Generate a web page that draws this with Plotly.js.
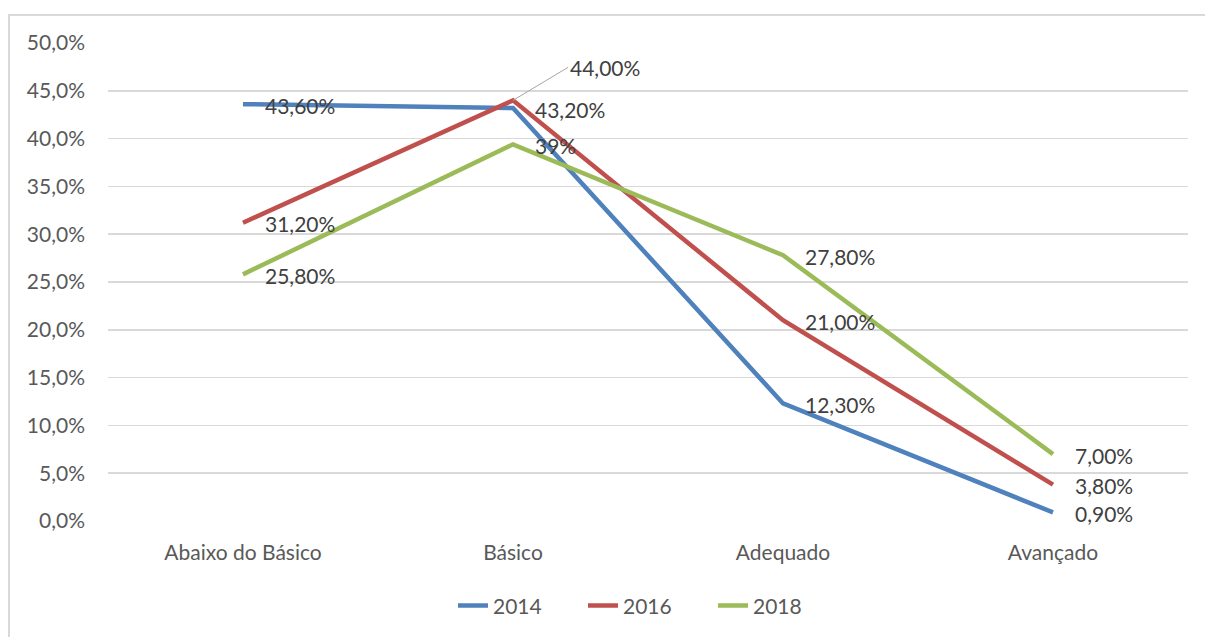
<!DOCTYPE html>
<html>
<head>
<meta charset="utf-8">
<script src="https://cdn.plot.ly/plotly-3.0.1.min.js"></script>
<style>
  html, body { margin: 0; padding: 0; background: #fff; }
  #wrap { position: relative; width: 1205px; height: 637px; }
  #frame { position: absolute; left: 8px; top: 14px; right: 0; bottom: 0;
           border-top: 2px solid #d9d9d9; border-left: 2px solid #d9d9d9; pointer-events: none; }
  #chart { position: absolute; left: 0; top: 0; width: 1205px; height: 637px; }
</style>
</head>
<body>
<div id="wrap">
  <div id="chart"></div>
  <div id="frame"></div>
</div>
<script>
const categories = ["Abaixo do Básico", "Básico", "Adequado", "Avançado"];
const seriesNames = ["2014", "2016", "2018"];
const values2014 = [43.6, 43.2, 12.3, 0.9];
const values2016 = [31.2, 44.0, 21.0, 3.8];
const values2018 = [25.8, 39.4, 27.8, 7.0];
const labels2014 = ["43,60%", "43,20%", "12,30%", "0,90%"];
const labels2016 = ["31,20%", "44,00%", "21,00%", "3,80%"];
const labels2018 = ["25,80%", "39%", "27,80%", "7,00%"];
const colors = ["#4f81bd", "#c0504d", "#9bbb59"];
const yTickVals = [0, 5, 10, 15, 20, 25, 30, 35, 40, 45, 50];
const yTickText = ["0,0%", "5,0%", "10,0%", "15,0%", "20,0%", "25,0%", "30,0%", "35,0%", "40,0%", "45,0%", "50,0%"];

const allValues = [values2014, values2016, values2018];
const allLabels = [labels2014, labels2016, labels2018];

const FONT = "Lato, 'Liberation Sans', sans-serif";
const FS = 21;

const traces = allValues.map((vals, i) => ({
  type: "scatter",
  mode: "lines",
  name: seriesNames[i],
  x: categories,
  y: vals,
  line: { color: colors[i], width: 4.5 },
  hoverinfo: "skip"
}));

const annotations = [];
allValues.forEach((vals, i) => {
  vals.forEach((v, j) => {
    const leader = (i === 1 && j === 1);
    const a = {
      x: categories[j], y: v, xref: "x", yref: "y",
      text: allLabels[i][j],
      font: { family: FONT, size: FS, color: "#404040" },
      xanchor: "left", yanchor: "middle"
    };
    if (leader) {
      a.showarrow = true;
      a.arrowhead = 0;
      a.arrowwidth = 1;
      a.arrowcolor = "#a6a6a6";
      a.axref = "pixel"; a.ayref = "pixel";
      a.ax = 55; a.ay = -33;
      a.xanchor = "left";
    } else {
      a.showarrow = false;
      a.xshift = 20;
      a.yshift = -1;
    }
    annotations.push(a);
  });
});

const layout = {
  width: 1205, height: 637,
  margin: { l: 108, r: 17, t: 43, b: 115 },
  paper_bgcolor: "rgba(0,0,0,0)",
  plot_bgcolor: "rgba(0,0,0,0)",
  separators: ",.",
  showlegend: true,
  legend: {
    orientation: "h", x: 0.50, xanchor: "center", xref: "paper",
    y: -0.175, yanchor: "middle",
    font: { family: FONT, size: FS, color: "#595959" },
    entrywidth: 85, entrywidthmode: "pixels",
    traceorder: "normal"
  },
  xaxis: {
    type: "category",
    range: [-0.5, 3.5],
    showgrid: false, zeroline: false, showline: false,
    ticks: "",
    tickfont: { family: FONT, size: FS, color: "#595959" },
    ticklabelstandoff: 17
  },
  yaxis: {
    range: [0, 50],
    tickmode: "array",
    tickvals: yTickVals,
    ticktext: yTickText,
    showgrid: true, gridcolor: "#d9d9d9", gridwidth: 1.5,
    zeroline: false, showline: false, ticks: "",
    tickfont: { family: FONT, size: FS, color: "#595959" },
    ticklabelstandoff: 22
  },
  annotations: annotations,
  font: { family: FONT }
};

Plotly.newPlot("chart", traces, layout, { displayModeBar: false, staticPlot: true });
</script>
</body>
</html>
